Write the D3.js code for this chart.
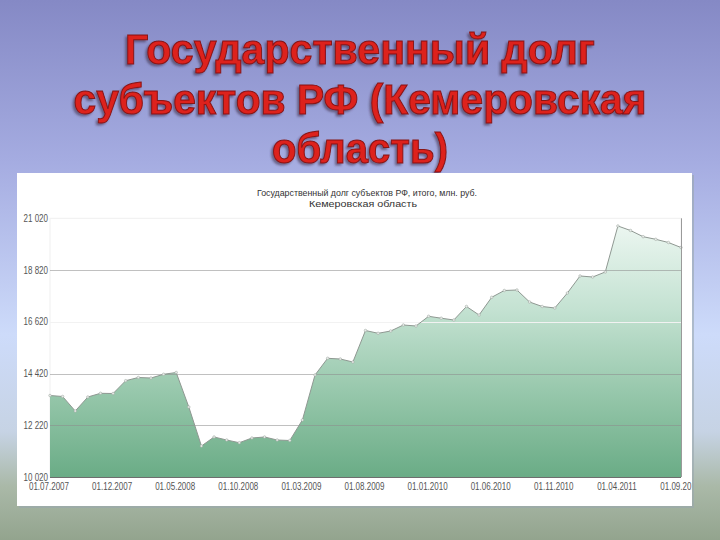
<!DOCTYPE html>
<html><head><meta charset="utf-8">
<script src="https://cdn.jsdelivr.net/npm/d3@7"></script>
<style>html,body{margin:0;padding:0;overflow:hidden;} svg{display:block;}</style>
</head><body>
<script>
// ---- data ----
const titleLines = ["Государственный долг", "субъектов РФ (Кемеровская", "область)"];
const chartTitle = ["Государственный долг субъектов РФ, итого, млн. руб.", "Кемеровская область"];
const dates = [
  "01.07.2007","01.08.2007","01.09.2007","01.10.2007","01.11.2007","01.12.2007",
  "01.01.2008","01.02.2008","01.03.2008","01.04.2008","01.05.2008","01.06.2008",
  "01.07.2008","01.08.2008","01.09.2008","01.10.2008","01.11.2008","01.12.2008",
  "01.01.2009","01.02.2009","01.03.2009","01.04.2009","01.05.2009","01.06.2009",
  "01.07.2009","01.08.2009","01.09.2009","01.10.2009","01.11.2009","01.12.2009",
  "01.01.2010","01.02.2010","01.03.2010","01.04.2010","01.05.2010","01.06.2010",
  "01.07.2010","01.08.2010","01.09.2010","01.10.2010","01.11.2010","01.12.2010",
  "01.01.2011","01.02.2011","01.03.2011","01.04.2011","01.05.2011","01.06.2011",
  "01.07.2011","01.08.2011","01.09.2011"
];
const values = [
  13485, 13443, 12826, 13422, 13579, 13570,
  14115, 14251, 14229, 14387, 14463, 12996,
  11338, 11721, 11593, 11478, 11678, 11721,
  11593, 11572, 12444, 14357, 15067, 15037,
  14910, 16249, 16130, 16228, 16483, 16441,
  16853, 16772, 16696, 17270, 16908, 17661,
  17950, 17971, 17461, 17270, 17206, 17844,
  18567, 18524, 18737, 20693, 20501, 20238,
  20127, 19991, 19778
];
const yTicks = [10020, 12220, 14420, 16620, 18820, 21020];
const xTickLabels = ["01.07.2007","01.12.2007","01.05.2008","01.10.2008","01.03.2009",
  "01.08.2009","01.01.2010","01.06.2010","01.11.2010","01.04.2011","01.09.2011"];

// ---- drawing ----
const W = 720, H = 540;
const svg = d3.select("body").append("svg").attr("width", W).attr("height", H);
const defs = svg.append("defs");

const bg = defs.append("linearGradient").attr("id","bg").attr("x1",0).attr("y1",0).attr("x2",0).attr("y2",1);
[[0,"#8589c5"],[0.3,"#a5ace1"],[0.62,"#cddbfa"],[0.8,"#c6d3e4"],[0.9,"#aab9a8"],[1,"#93a48e"]]
  .forEach(([o,c]) => bg.append("stop").attr("offset",o).attr("stop-color",c));
svg.append("rect").attr("width",W).attr("height",H).attr("fill","url(#bg)");

// title (one text element, three lines)
const sh = defs.append("filter").attr("id","tsh").attr("x","-10%").attr("y","-20%").attr("width","120%").attr("height","150%");
sh.append("feDropShadow").attr("dx",-2).attr("dy",2).attr("stdDeviation",0.8)
  .attr("flood-color","#3a2a40").attr("flood-opacity",0.55);
const titleBase = [64, 114, 163];
const titleWidth = [470, 573, 176];
const tt = svg.append("text").attr("filter","url(#tsh)")
  .attr("text-anchor","middle")
  .attr("font-family","'Liberation Sans', Arial, sans-serif")
  .attr("font-weight","bold").attr("font-size",42)
  .attr("fill","#dd211d").attr("stroke","#861313").attr("stroke-width",1);
tt.selectAll("tspan").data(titleLines).join("tspan")
  .attr("x", W/2).attr("y", (d,i) => titleBase[i])
  .attr("textLength",(d,i)=>titleWidth[i]).attr("lengthAdjust","spacingAndGlyphs")
  .text(d => d);

// panel
const panel = {x:17, y:173, w:675, h:333};
svg.append("rect").attr("x",panel.x+2).attr("y",panel.y+2).attr("width",panel.w).attr("height",panel.h)
  .attr("fill","#9aa6ad").attr("opacity",0.6);
svg.append("rect").attr("x",panel.x).attr("y",panel.y).attr("width",panel.w).attr("height",panel.h).attr("fill","#fff");
defs.append("clipPath").attr("id","pclip").append("rect")
  .attr("x",panel.x).attr("y",panel.y).attr("width",panel.w).attr("height",panel.h);
const g = svg.append("g").attr("clip-path","url(#pclip)");

const plot = {l:50, r:681, t:218.3, b:477};
const x = d3.scalePoint().domain(dates).range([plot.l, plot.r]);
const y = d3.scaleLinear().domain([10020, 21020]).range([plot.b, plot.t]);

// chart title
g.selectAll("text.ct").data(chartTitle).join("text").attr("class","ct")
  .attr("x",(d,i)=> i===0 ? 367 : 363).attr("y",(d,i)=> i===0 ? 195.5 : 206.5)
  .attr("text-anchor","middle").attr("font-family","'Liberation Sans', Arial, sans-serif")
  .attr("font-size",9.5).attr("fill","#333")
  .attr("textLength",(d,i)=> i===0 ? 220 : 108).attr("lengthAdjust","spacingAndGlyphs")
  .text(d=>d);

// plot frame (faint)
g.append("rect").attr("x",plot.l).attr("y",plot.t).attr("width",plot.r-plot.l).attr("height",plot.b-plot.t)
  .attr("fill","none").attr("stroke","#f0f0f0");

// area gradient
const ag = defs.append("linearGradient").attr("id","ag").attr("gradientUnits","userSpaceOnUse")
  .attr("x1",0).attr("y1",plot.t).attr("x2",0).attr("y2",plot.b);
[[0,"#eff8f3"],[0.35,"#c4e2d2"],[0.7,"#93c5a8"],[1,"#6aac86"]]
  .forEach(([o,c]) => ag.append("stop").attr("offset",o).attr("stop-color",c));

const area = d3.area().x((d,i)=>x(dates[i])).y0(plot.b).y1(d=>y(d));
g.append("path").datum(values).attr("d",area).attr("fill","url(#ag)");

// gridlines
const faint = new Set([16620, 21020]);
g.selectAll("line.grid").data(yTicks.filter(t=>t!==10020)).join("line").attr("class","grid")
  .attr("x1",plot.l).attr("x2",plot.r).attr("y1",d=>Math.round(y(d))+0.5).attr("y2",d=>Math.round(y(d))+0.5)
  .attr("stroke", d => faint.has(d) ? "#f2f2f2" : "#8c8c8c")
  .attr("stroke-opacity", d => faint.has(d) ? 1 : 0.55);

// line
const line = d3.line().x((d,i)=>x(dates[i])).y(d=>y(d));
g.append("path").datum(values).attr("d",line).attr("fill","none")
  .attr("stroke","#8f9892").attr("stroke-width",1);
g.selectAll("circle.pt").data(values).join("circle").attr("class","pt")
  .attr("cx",(d,i)=>x(dates[i])).attr("cy",d=>y(d)).attr("r",1.3)
  .attr("fill","#e8ece9").attr("stroke","#9aa39d").attr("stroke-width",0.5);

// axes lines
g.append("line").attr("x1",plot.l).attr("x2",plot.r).attr("y1",plot.b+0.5).attr("y2",plot.b+0.5)
  .attr("stroke","#6e6e6e");
g.append("line").attr("x1",plot.r+0.5).attr("x2",plot.r+0.5).attr("y1",plot.t).attr("y2",plot.b)
  .attr("stroke","#9a9a9a");

// y tick labels
const fmt = d3.formatLocale({decimal:",", thousands:" ", grouping:[3], currency:["",""]}).format(",d");
const yl = g.selectAll("text.yt").data(yTicks).join("text").attr("class","yt")
  .attr("x",48).attr("y",d=>y(d)+3.5).attr("text-anchor","end")
  .attr("font-family","'Liberation Sans', Arial, sans-serif").attr("font-size",10).attr("fill","#555")
  .text(d=>fmt(d));
yl.each(function(){ const w=this.getComputedTextLength(); d3.select(this).attr("textLength",w*0.8).attr("lengthAdjust","spacingAndGlyphs"); });

// x tick labels
const xl = g.selectAll("text.xt").data(xTickLabels).join("text").attr("class","xt")
  .attr("x",d=>x(d)-1).attr("y",490).attr("text-anchor","middle")
  .attr("font-family","'Liberation Sans', Arial, sans-serif").attr("font-size",10).attr("fill","#555")
  .text(d=>d);
xl.each(function(){ const w=this.getComputedTextLength(); d3.select(this).attr("textLength",w*0.8).attr("lengthAdjust","spacingAndGlyphs"); });
</script>
</body></html>
